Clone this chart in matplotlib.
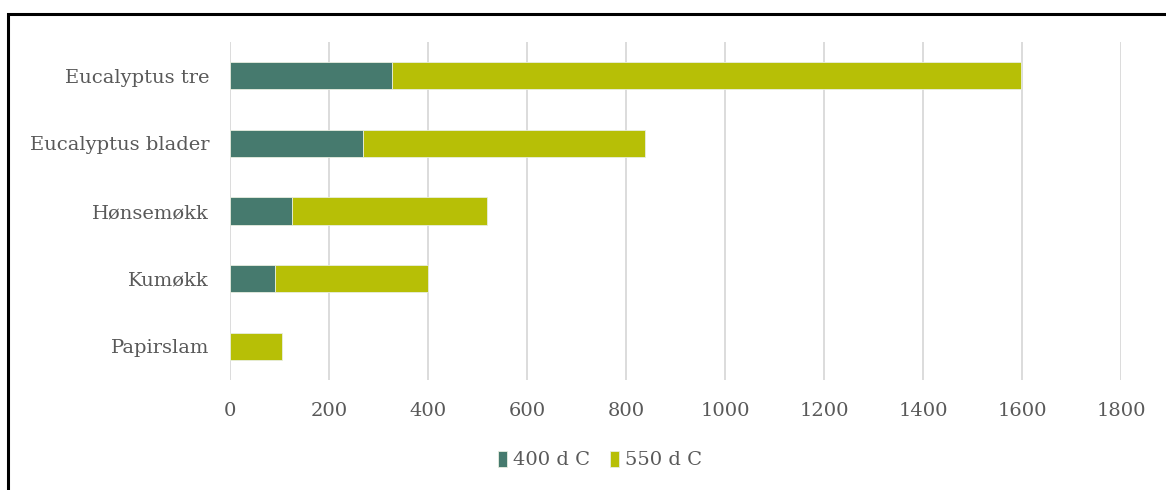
import matplotlib.pyplot as plt
from matplotlib.patches import Rectangle

# Biochar yield per feedstock at two pyrolysis temperatures
categories = ["Eucalyptus tre", "Eucalyptus blader", "Hønsemøkk", "Kumøkk", "Papirslam"]
temp_400 = [328, 268, 126, 91, 0]
temp_550 = [1270, 571, 394, 309, 106]
series_labels = ["400 d C", "550 d C"]
x_ticks = [0, 200, 400, 600, 800, 1000, 1200, 1400, 1600, 1800]

dark = "#467A6E"
lime = "#B7BF06"
grey = "#595959"

plt.rcParams['font.family'] = ['DejaVu Serif']

fig = plt.figure(figsize=(11.66, 4.9), dpi=100)
ax = fig.add_axes([230 / 1166, 1 - 380 / 490, (1121 - 230) / 1166, (380 - 42) / 490])

y = range(len(categories))
ax.barh(y, temp_400, height=0.4, color=dark, edgecolor="#e8eee0", linewidth=0.6,
        label=series_labels[0], zorder=3)
ax.barh(y, temp_550, left=temp_400, height=0.4, color=lime, edgecolor="#e8eee0",
        linewidth=0.6, label=series_labels[1], zorder=3)

ax.set_xlim(0, 1800)
ax.set_ylim(len(categories) - 0.5, -0.5)
ax.set_yticks(list(y))
ax.set_yticklabels(categories, fontsize=14, color=grey)
ax.set_xticks(x_ticks)
ax.set_xticklabels([str(t) for t in x_ticks], fontsize=14, color=grey)
ax.tick_params(axis='both', length=0)
ax.tick_params(axis='y', pad=15)
ax.tick_params(axis='x', pad=16)
ax.grid(axis='x', color="#D9D9D9", linewidth=1.3, zorder=0)
for s in ax.spines.values():
    s.set_visible(False)

fig.legend(loc='center', bbox_to_anchor=(600 / 1166, 1 - 460 / 490), ncol=2,
           frameon=False, fontsize=14, labelcolor=grey, handlelength=0.5,
           handleheight=0.9, handletextpad=0.3, columnspacing=1.0)

# chart frame
fig.patches.append(Rectangle((8 / 1166, -0.1), 1.2, 1.1 - 14 / 490,
                             transform=fig.transFigure, fill=False,
                             edgecolor="black", linewidth=2.2))

fig.savefig("out.png", dpi=100)
